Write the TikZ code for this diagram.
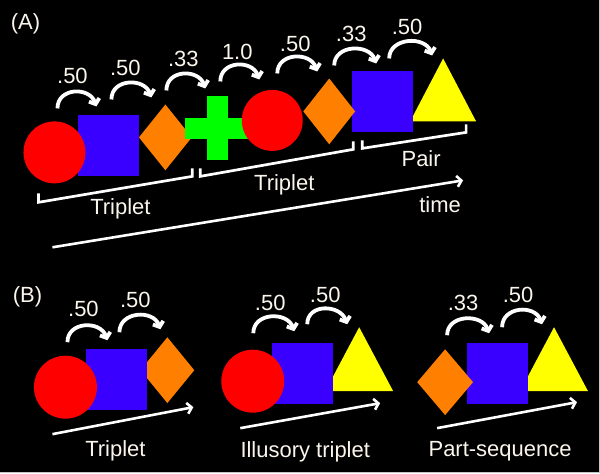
\documentclass[tikz,border=0pt]{standalone}
\usepackage{fontspec}
\setmainfont{Liberation Sans}
\usetikzlibrary{arrows.meta,shapes.geometric}
\definecolor{myred}{RGB}{255,0,0}
\definecolor{myblue}{RGB}{58,0,255}
\definecolor{myorange}{RGB}{255,128,0}
\definecolor{mygreen}{RGB}{0,255,0}
\definecolor{myyellow}{RGB}{255,255,0}
\definecolor{txt}{RGB}{250,246,236}
\newcommand\carr[2]{\draw[carrow] (#1) .. controls +(0,-21) and +(-7,-20) .. (#2);}
\begin{document}
\begin{tikzpicture}[x=1pt,y=-1pt,
 lbl/.style={text=txt,font=\fontsize{22}{25}\selectfont,inner sep=0},
 circ/.style={circle,fill=myred,inner sep=0,minimum size=#1},
 sq/.style={rectangle,fill=myblue,inner sep=0,minimum size=61},
 dia/.style={diamond,fill=myorange,inner sep=0,minimum width=#1,minimum height=66},
 tri/.style={fill=myyellow},
 carrow/.style={draw=white,line width=3.8,-{Straight Barb[length=4.5pt,width=11pt]}},
 brk/.style={draw=white,line width=2.7},
 tarrow/.style={draw=white,line width=2.6,-{Straight Barb[length=4.5pt,width=11pt]}}]
\fill[black] (0,0) rectangle (600,473);
\draw[gray!45,line width=1] (599.5,0) -- (599.5,472.5) -- (0,472.5);
\useasboundingbox (0,0) rectangle (600,473);

% ---------------- (A) ----------------
\node[lbl] (labA) at (25,23) {(A)};
\fill[tri] (410,121) -- (476,121) -- (443,58) -- cycle;
\node[dia=53] (d1) at (165,137) {};
\node[sq] (s1) at (108.5,145.5) {};
\node[circ=62] (c1) at (54,152) {};
\fill[mygreen] (185,117.5) rectangle (251,138.5);
\fill[mygreen] (207,96) rectangle (228,160);
\node[circ=61] (c2) at (272,120) {};
\node[sq] (s2) at (382.5,101.5) {};
\node[dia=52] (d2) at (329,111) {};

\coordinate (a1s) at (57,108);  \coordinate (a1e) at (96,106);
\coordinate (a2s) at (111,99);  \coordinate (a2e) at (151,97);
\coordinate (a3s) at (166,90);  \coordinate (a3e) at (205,88);
\coordinate (a4s) at (220,81);  \coordinate (a4e) at (259,79);
\coordinate (a5s) at (277,73);  \coordinate (a5e) at (317,71);
\coordinate (a6s) at (334,65);  \coordinate (a6e) at (376,63);
\coordinate (a7s) at (389,58);  \coordinate (a7e) at (432,55);
\carr{a1s}{a1e}\carr{a2s}{a2e}\carr{a3s}{a3e}\carr{a4s}{a4e}
\carr{a5s}{a5e}\carr{a6s}{a6e}\carr{a7s}{a7e}
\node[lbl] (p1) at (72,75) {.50};
\node[lbl] (p2) at (125,67) {.50};
\node[lbl] (p3) at (183,58) {.33};
\node[lbl] (p4) at (237,51) {1.0};
\node[lbl] (p5) at (295,43) {.50};
\node[lbl] (p6) at (351,33) {.33};
\node[lbl] (p7) at (407,26) {.50};

\draw[brk] (38,193) -- (38,202) -- (192,176) -- (192,168);
\draw[brk] (200,168) -- (200,176) -- (353,149) -- (353,141);
\draw[brk] (362,140) -- (362,148) -- (466,132) -- (466,124);
\node[lbl] (t1) at (120,208) {Triplet};
\node[lbl] (t2) at (284,184) {Triplet};
\node[lbl] (t3) at (421,158) {Pair};

\coordinate (ts) at (52,247); \coordinate (te) at (463,180);
\draw[tarrow] (ts) -- (te);
\node[lbl] (time) at (440,204) {time};

% ---------------- (B) ----------------
\node[lbl] (labB) at (27,297) {(B)};
% group 1
\node[dia=54] (bd1) at (167,370) {};
\node[sq] (bs1) at (116,379) {};
\node[circ=63] (bc1) at (65,387) {};
% group 2
\fill[tri] (325,391) -- (393,391) -- (359,327) -- cycle;
\node[sq] (bs2) at (302.5,373) {};
\node[circ=63] (bc2) at (252.5,381) {};
% group 3
\fill[tri] (520,391) -- (588,391) -- (554,327) -- cycle;
\node[sq] (bs3) at (497,373) {};
\node[dia=56] (bd3) at (445,382) {};

\coordinate (b1s) at (67,342);  \coordinate (b1e) at (107,340);
\coordinate (b2s) at (119,332); \coordinate (b2e) at (160,329);
\coordinate (b3s) at (253,333); \coordinate (b3e) at (294,331);
\coordinate (b4s) at (307,324); \coordinate (b4e) at (347,324);
\coordinate (b5s) at (447,335); \coordinate (b5e) at (489,333);
\coordinate (b6s) at (502,327); \coordinate (b6e) at (542,324);
\carr{b1s}{b1e}\carr{b2s}{b2e}\carr{b3s}{b3e}
\carr{b4s}{b4e}\carr{b5s}{b5e}\carr{b6s}{b6e}
\node[lbl] (q1) at (83,309) {.50};
\node[lbl] (q2) at (135,300) {.50};
\node[lbl] (q3) at (270,303) {.50};
\node[lbl] (q4) at (325,295) {.50};
\node[lbl] (q5) at (463,303) {.33};
\node[lbl] (q6) at (518,295) {.50};

\coordinate (u1s) at (52,434);  \coordinate (u1e) at (193,407);
\coordinate (u2s) at (240,428); \coordinate (u2e) at (380,403);
\coordinate (u3s) at (437,428); \coordinate (u3e) at (577,402);
\draw[tarrow] (u1s) -- (u1e);
\draw[tarrow] (u2s) -- (u2e);
\draw[tarrow] (u3s) -- (u3e);
\node[lbl] (r1) at (115,451) {Triplet};
\node[lbl] (r2) at (305,452) {Illusory triplet};
\node[lbl] (r3) at (500,451) {Part-sequence};
\end{tikzpicture}
\end{document}
